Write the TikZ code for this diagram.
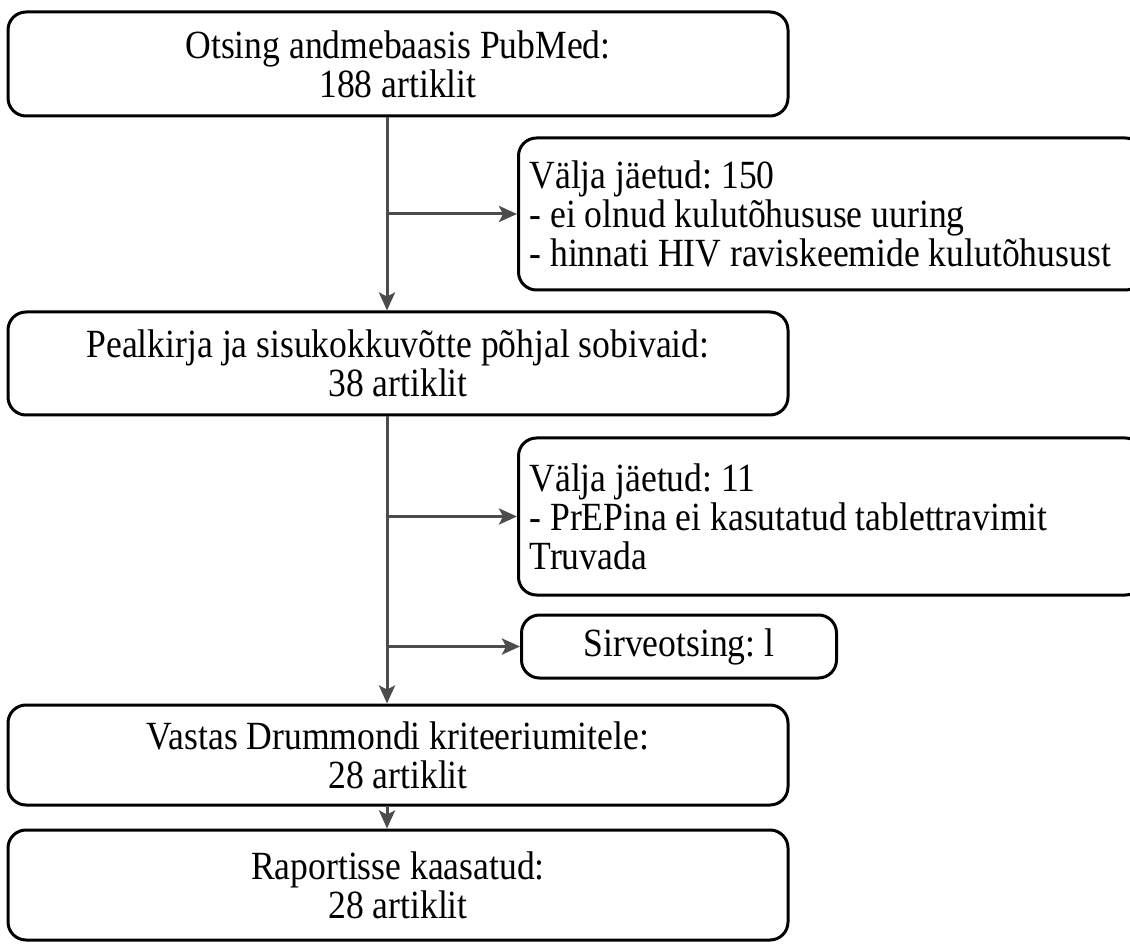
\documentclass[tikz,border=0pt]{standalone}
\usepackage{fontspec}
\setmainfont[FakeStretch=0.89]{Liberation Serif}
\usetikzlibrary{arrows.meta}

\tikzset{
  flowbox/.style={draw=black, line width=3pt, rounded corners=18pt, inner xsep=11pt, inner ysep=0pt,
    font=\fontsize{40}{39}\selectfont\frenchspacing},
  mainbox/.style={flowbox, minimum width=780pt, align=center},
  sidebox/.style={flowbox, text width=603pt, align=flush left},
  conn/.style={draw=black!70, line width=3pt, -{Stealth[length=18pt,width=16pt,inset=4pt]}}
}

\begin{document}
\begin{tikzpicture}[x=1pt,y=-1pt]
\useasboundingbox (0,0) rectangle (1130,949);
\coordinate (trunk) at (387,0);

\node [mainbox, minimum height=104pt] (search) at (398,64) {Otsing andmebaasis PubMed:\\188 artiklit};
\node [sidebox, minimum height=152pt, anchor=west] (excl1) at (517,214) {Välja jäetud: 150\\- ei olnud kulutõhususe uuring\\- hinnati HIV raviskeemide kulutõhusust};
\node [mainbox, minimum height=103pt] (titles) at (398,363.5) {Pealkirja ja sisukokkuvõtte põhjal sobivaid:\\38 artiklit};
\node [sidebox, minimum height=157pt, anchor=west] (excl2) at (517,516.5) {Välja jäetud: 11\\- PrEPina ei kasutatud tablettravimit\\Truvada};
\node [flowbox, minimum width=315pt, minimum height=63pt, anchor=west] (extra) at (520,646.5) {Sirveotsing: l};
\node [mainbox, minimum height=100pt] (drummond) at (398,755) {Vastas Drummondi kriteeriumitele:\\28 artiklit};
\node [mainbox, minimum height=110pt] (report) at (398,885) {Raportisse kaasatud:\\28 artiklit};

% main line
\draw [conn] (search.south -| trunk) -- (titles.north -| trunk);
\draw [conn] (excl1.west -| trunk) -- (excl1.west);
\draw [conn] (titles.south -| trunk) -- (drummond.north -| trunk);
\draw [conn] (excl2.west -| trunk) -- (excl2.west);
\draw [conn] (extra.west -| trunk) -- (extra.west);
\draw [conn] (drummond.south -| trunk) -- (report.north -| trunk);
\end{tikzpicture}
\end{document}
